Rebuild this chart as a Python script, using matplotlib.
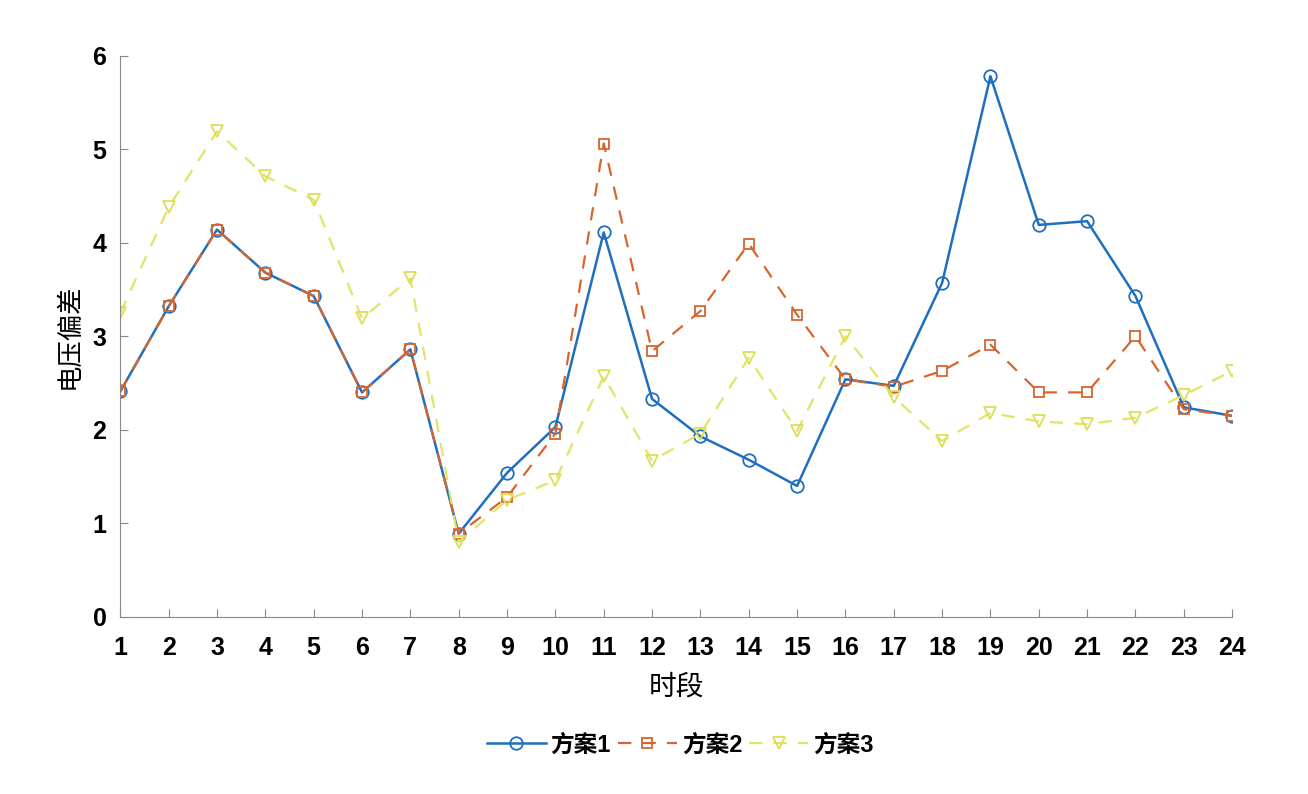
import numpy as np
import matplotlib.pyplot as plt

plt.rcParams['font.family'] = ['Liberation Sans', 'Noto Sans CJK SC', 'DejaVu Sans']
plt.rcParams['font.weight'] = 'bold'

hours = list(range(1, 25))
plan1 = [2.41, 3.32, 4.14, 3.68, 3.43, 2.40, 2.86, 0.89, 1.54, 2.03, 4.11, 2.33,
         1.93, 1.68, 1.40, 2.54, 2.47, 3.57, 5.78, 4.19, 4.23, 3.43, 2.24, 2.15]
plan2 = [2.41, 3.32, 4.14, 3.68, 3.43, 2.40, 2.86, 0.89, 1.28, 1.96, 5.06, 2.84,
         3.27, 3.99, 3.23, 2.54, 2.46, 2.63, 2.91, 2.40, 2.40, 3.00, 2.22, 2.15]
plan3 = [3.25, 4.38, 5.19, 4.71, 4.46, 3.19, 3.62, 0.80, 1.25, 1.46, 2.57, 1.67,
         1.96, 2.77, 1.99, 3.00, 2.35, 1.88, 2.18, 2.09, 2.06, 2.13, 2.37, 2.63]
labels = ['方案1', '方案2', '方案3']

fig = plt.figure(figsize=(13.08, 7.94), dpi=100)
ax = fig.add_axes([0.092, 0.223, 0.85, 0.707])

ax.plot(hours, plan1, '-', color='#1f6fbf', lw=1.8, marker='o', ms=9,
        mfc='none', mec='#1f6fbf', mew=1.3, label=labels[0])
ax.plot(hours, plan2, '--', color='#d9652e', lw=1.6, dashes=(6, 5), marker='s', ms=7,
        mfc='none', mec='#d9652e', mew=1.3, label=labels[1])
ax.plot(hours, plan3, '--', color='#e3e36a', lw=1.6, dashes=(6, 5), marker='v', ms=9,
        mfc='none', mec='#dede55', mew=1.3, label=labels[2])

ax.set_xlim(1, 24)
ax.set_ylim(0, 6)
ax.set_xticks(hours)
ax.set_yticks(range(0, 7))
ax.tick_params(direction='in', length=6, color='#888888', labelsize=18)
ax.tick_params(axis='x', pad=14)
ax.tick_params(axis='y', pad=10)
for side in ['top', 'right']:
    ax.spines[side].set_visible(False)
for side in ['left', 'bottom']:
    ax.spines[side].set_color('#888888')

ax.set_xlabel('时段', fontsize=20, labelpad=10, fontweight='normal')
ax.set_ylabel('电压偏差', fontsize=19, labelpad=8, fontweight='normal')

fig.legend(loc='center', bbox_to_anchor=(0.52, 0.062), ncol=3, frameon=False,
           handlelength=2.5, columnspacing=0.3, handletextpad=0.2,
           prop={'size': 17, 'weight': 'bold'})

fig.savefig('out.png', dpi=100)
